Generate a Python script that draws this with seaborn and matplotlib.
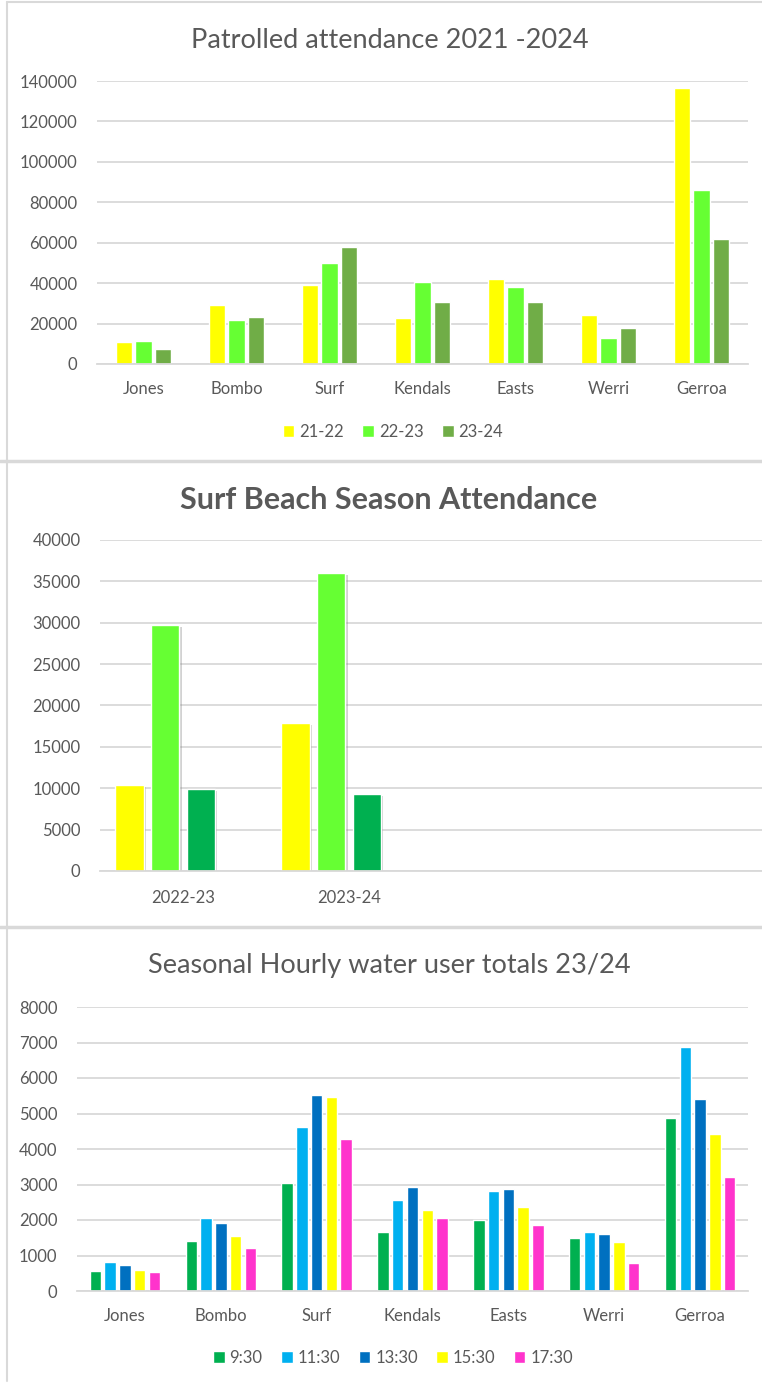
import numpy as np
import pandas as pd
import matplotlib
matplotlib.use("Agg")
import matplotlib.pyplot as plt
import matplotlib.patheffects as pe
from matplotlib.lines import Line2D
import seaborn as sns

# ---------------- data ----------------
beaches = ["Jones", "Bombo", "Surf", "Kendals", "Easts", "Werri", "Gerroa"]

seasons = ["21-22", "22-23", "23-24"]
att_21_22 = [11000, 29000, 39000, 22800, 42000, 24200, 136500]
att_22_23 = [11300, 21600, 50000, 40400, 38200, 12900, 86000]
att_23_24 = [7600, 23400, 58000, 30700, 30700, 17800, 61800]
season_colors = ["#FFFF00", "#66FF33", "#70AD47"]

surf_seasons = ["2022-23", "2023-24"]
surf_series = ["Series 1", "Series 2", "Series 3"]
surf_empty_series = ["Series 4"]  # empty slot present in the original chart
surf_s1 = [10350, 17850]
surf_s2 = [29750, 36050]
surf_s3 = [9950, 9300]
surf_colors = ["#FFFF00", "#66FF33", "#00B050", "#FFFFFF"]

times = ["9:30", "11:30", "13:30", "15:30", "17:30"]
h_0930 = [570, 1405, 3055, 1670, 1990, 1490, 4875]
h_1130 = [815, 2065, 4630, 2575, 2820, 1660, 6875]
h_1330 = [735, 1905, 5525, 2925, 2860, 1595, 5415]
h_1530 = [605, 1555, 5460, 2280, 2365, 1385, 4425]
h_1730 = [532, 1225, 4270, 2065, 1865, 790, 3205]
time_colors = ["#00B050", "#00B0F0", "#0070C0", "#FFFF00", "#FF33CC"]

# ---------------- style ----------------
sns.set_theme(style="white")
plt.rcParams["font.family"] = ["Lato", "DejaVu Sans"]
TXT = "#595959"
GRID = "#D9D9D9"
TICK_FS = 12
W, H = 762, 1383
fig = plt.figure(figsize=(W / 100, H / 100), dpi=100)
fig.patch.set_facecolor("white")


def add_ax(left, right, top, bottom):
    return fig.add_axes([left / W, 1 - bottom / H, (right - left) / W, (bottom - top) / H])


def style_ax(ax, ymax, step, xpad):
    ax.set_ylim(0, ymax)
    ax.set_yticks(np.arange(0, ymax + 1, step))
    ax.yaxis.grid(True, color=GRID, linewidth=1.3)
    ax.set_axisbelow(True)
    for s in ["top", "right", "left"]:
        ax.spines[s].set_visible(False)
    ax.spines["bottom"].set_color(GRID)
    ax.spines["bottom"].set_linewidth(1.3)
    ax.tick_params(axis="both", length=0, labelsize=TICK_FS, labelcolor=TXT)
    ax.tick_params(axis="y", pad=14)
    ax.tick_params(axis="x", pad=xpad)
    ax.set_xlabel("")
    ax.set_ylabel("")


# ---------------- chart 1 ----------------
df1 = pd.DataFrame({
    "beach": beaches * 3,
    "season": [s for s in seasons for _ in beaches],
    "value": att_21_22 + att_22_23 + att_23_24,
})
ax1 = add_ax(97, 748, 81, 364)
sns.barplot(data=df1, x="beach", y="value", hue="season", hue_order=seasons,
            palette=season_colors, width=0.62, gap=0.15, saturation=1,
            errorbar=None, ax=ax1)
style_ax(ax1, 140000, 20000, 12)
h, l = ax1.get_legend_handles_labels()
ax1.legend(h, l, loc="center", bbox_to_anchor=(393 / W, 1 - 432 / H),
           bbox_transform=fig.transFigure, ncol=3, frameon=False,
           fontsize=TICK_FS, labelcolor=TXT, handlelength=0.7, handleheight=0.7,
           handletextpad=0.3, columnspacing=1.1)
fig.text(390 / W, 1 - 40 / H, "Patrolled attendance 2021 -2024", ha="center",
         va="center", fontsize=19.5, color=TXT)

# ---------------- chart 2 ----------------
df2 = pd.DataFrame({
    "season": surf_seasons * 3,
    "series": [s for s in surf_series for _ in surf_seasons],
    "value": surf_s1 + surf_s2 + surf_s3,
})
ax2 = add_ax(100, 764, 540, 871)
sns.barplot(data=df2, x="season", y="value", hue="series",
            hue_order=surf_series + surf_empty_series,
            palette=surf_colors, width=0.86, gap=0.2, saturation=1,
            errorbar=None, legend=False, ax=ax2)
for p in ax2.patches:
    p.set_path_effects([pe.SimplePatchShadow(offset=(1.5, -1.5), shadow_rgbFace="#808080", alpha=0.35),
                        pe.Normal()])
ax2.set_xlim(-0.5, 3.5)
style_ax(ax2, 40000, 5000, 14)
fig.text(389 / W, 1 - 500 / H, "Surf Beach Season Attendance", ha="center",
         va="center", fontsize=22, color=TXT, fontweight="bold")

# ---------------- chart 3 ----------------
df3 = pd.DataFrame({
    "beach": beaches * 5,
    "time": [t for t in times for _ in beaches],
    "value": h_0930 + h_1130 + h_1330 + h_1530 + h_1730,
})
ax3 = add_ax(77, 748, 1007, 1291)
sns.barplot(data=df3, x="beach", y="value", hue="time", hue_order=times,
            palette=time_colors, width=0.77, gap=0.22, saturation=1,
            errorbar=None, ax=ax3)
style_ax(ax3, 8000, 1000, 12)
h, l = ax3.get_legend_handles_labels()
ax3.legend(h, l, loc="center", bbox_to_anchor=(393 / W, 1 - 1358 / H),
           bbox_transform=fig.transFigure, ncol=5, frameon=False,
           fontsize=TICK_FS, labelcolor=TXT, handlelength=0.7, handleheight=0.7,
           handletextpad=0.3, columnspacing=1.1)
fig.text(389 / W, 1 - 965 / H, "Seasonal Hourly water user totals 23/24", ha="center",
         va="center", fontsize=19.5, color=TXT)

# ---------------- panel borders ----------------
def hline(y, x0=0, x1=W, lw=1.5):
    fig.add_artist(Line2D([x0 / W, x1 / W], [1 - y / H, 1 - y / H], color=GRID, lw=lw,
                          transform=fig.transFigure))

def vline(x, y0, y1, lw=1.5):
    fig.add_artist(Line2D([x / W, x / W], [1 - y0 / H, 1 - y1 / H], color=GRID, lw=lw,
                          transform=fig.transFigure))

hline(2, 7, W)
hline(461, 0, W, lw=2.5)
hline(927, 0, W, lw=2.5)
vline(7, 2, 1381)

fig.savefig("out.png", dpi=100, facecolor="white")
